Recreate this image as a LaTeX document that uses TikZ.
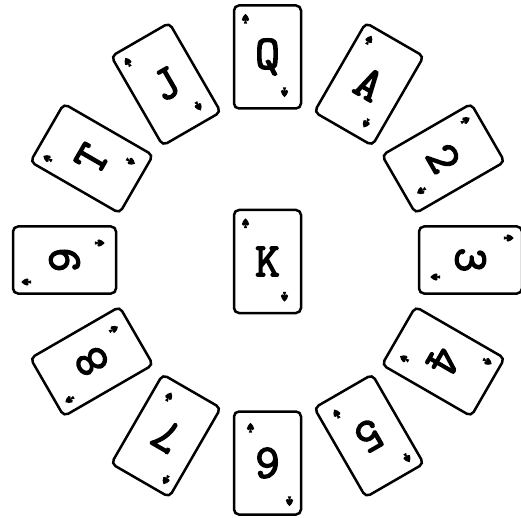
\documentclass[tikz,border=0pt]{standalone}
\usepackage{fontspec}
\newfontfamily\cardfont{Latin Modern Mono}[BoldFont={Latin Modern Mono},BoldFeatures={FakeBold=3}]
\begin{document}
\begin{tikzpicture}[x=1pt,y=1pt,
  card/.style={draw, line width=2.5pt, rounded corners=5pt, minimum width=67pt, minimum height=103pt, inner sep=0pt, fill=white},
  lab/.style={inner sep=0pt, font=\cardfont\bfseries\fontsize{48}{48}\selectfont},
  spade/.pic={
    \begin{scope}[scale=1.3]
    \fill (0,4) .. controls (1.2,2.4) and (3,1.4) .. (2.8,-0.6) .. controls (2.5,-2) and (0.9,-1.9) .. (0,-0.8) .. controls (-0.9,-1.9) and (-2.5,-2) .. (-2.8,-0.6) .. controls (-3,1.4) and (-1.2,2.4) .. (0,4) -- cycle;
    \fill (-0.4,-0.8) -- (0.4,-0.8) -- (1.3,-3.6) -- (-1.3,-3.6) -- cycle;
    \end{scope}
  }]
\useasboundingbox (0,0) rectangle (521,-518);
\clip (0,0) rectangle (521,-518);
\foreach \lab [count=\i from 0] in {Q,A,2,3,4,5,6,7,8,9,T,J} {
  \pgfmathsetmacro\ang{30*\i}
  \begin{scope}[shift={({267.5+203*sin(\ang)},{-260+203*cos(\ang)})}, rotate=-\ang, transform shape]
    \node[card] (card\i) at (0,0) {};
    \node[lab] (lab\i) at (0,0) {\lab};
    \pic at (-22,38) {spade};
    \pic[rotate=180] at (17,-35) {spade};
  \end{scope}
}
\begin{scope}[shift={(267.5,-261.5)}]
  \node[card] (cardK) at (0,0) {};
  \node[lab] (labK) at (0,0) {K};
  \pic at (-22,38) {spade};
  \pic[rotate=180] at (17,-35) {spade};
\end{scope}
\end{tikzpicture}
\end{document}
